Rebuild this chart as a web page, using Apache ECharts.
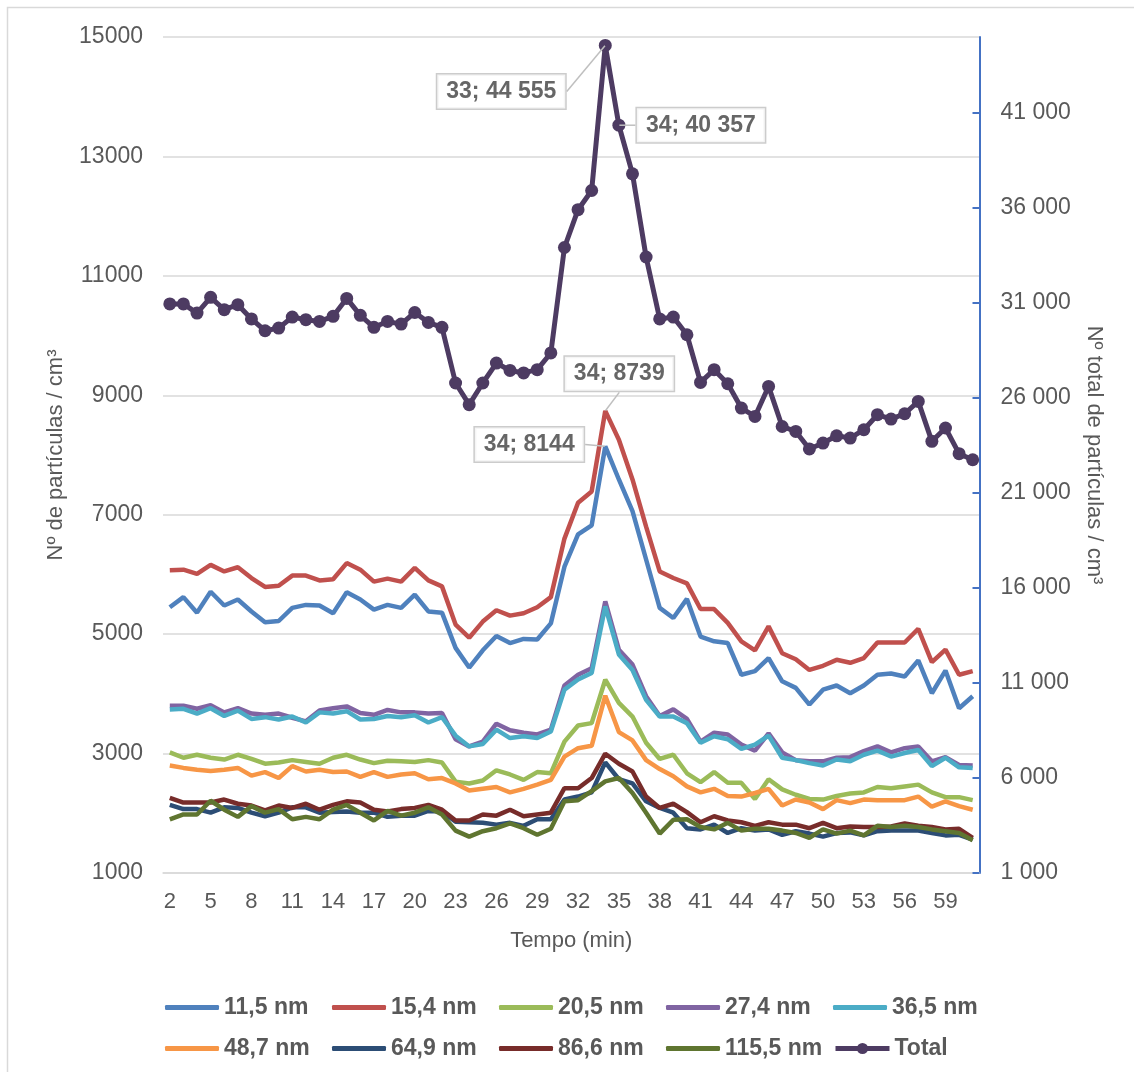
<!DOCTYPE html>
<html>
<head>
<meta charset="utf-8">
<script src="https://cdn.jsdelivr.net/npm/echarts@6/dist/echarts.min.js"></script>
<style>
  html, body { margin: 0; padding: 0; background: #ffffff; }
  #chart { width: 1134px; height: 1072px; }
</style>
</head>
<body>
<div id="chart"></div>
<script>
// Tempo (min) — one category per minute
const minutes = [2, 3, 4, 5, 6, 7, 8, 9, 10, 11, 12, 13, 14, 15, 16, 17, 18, 19, 20, 21,
  22, 23, 24, 25, 26, 27, 28, 29, 30, 31, 32, 33, 34, 35, 36, 37, 38, 39, 40, 41,
  42, 43, 44, 45, 46, 47, 48, 49, 50, 51, 52, 53, 54, 55, 56, 57, 58, 59, 60, 61];

// Concentration per size class (partículas / cm3), left axis
const nm11_5 = [5450, 5620, 5360, 5710, 5480, 5580, 5380, 5200, 5220, 5440,
  5490, 5480, 5350, 5700, 5580, 5410, 5490, 5440, 5660, 5380,
  5360, 4770, 4440, 4730, 4970, 4850, 4920, 4910, 5180, 6130,
  6670, 6820, 8144, 7590, 7060, 6250, 5440, 5270, 5590, 4960,
  4880, 4850, 4320, 4380, 4600, 4210, 4100, 3820, 4070, 4140,
  4010, 4140, 4320, 4340, 4290, 4560, 4010, 4390, 3760, 3960];
const nm15_4 = [6070, 6080, 6010, 6160, 6050, 6120, 5940, 5790, 5810, 5980,
  5980, 5900, 5920, 6190, 6080, 5880, 5930, 5880, 6110, 5900,
  5800, 5160, 4940, 5210, 5400, 5310, 5350, 5450, 5620, 6600,
  7200, 7390, 8739, 8256, 7590, 6800, 6050, 5940, 5850, 5420,
  5420, 5190, 4880, 4730, 5130, 4680, 4580, 4400, 4470, 4570,
  4520, 4600, 4860, 4860, 4860, 5090, 4530, 4740, 4320, 4380];
const nm20_5 = [3020, 2930, 2980, 2930, 2900, 2980, 2910, 2830, 2850, 2890,
  2860, 2830, 2930, 2980, 2900, 2840, 2880, 2870, 2860, 2890,
  2850, 2530, 2500, 2550, 2720, 2650, 2560, 2690, 2670, 3200,
  3470, 3510, 4237, 3850, 3620, 3180, 2910, 2980, 2670, 2520,
  2690, 2510, 2510, 2240, 2570, 2400, 2310, 2240, 2230, 2290,
  2330, 2350, 2440, 2420, 2450, 2480, 2350, 2270, 2270, 2220];
const nm27_4 = [3800, 3800, 3750, 3810, 3690, 3760, 3670, 3650, 3670, 3600,
  3540, 3720, 3760, 3790, 3680, 3650, 3730, 3690, 3690, 3670,
  3680, 3240, 3120, 3200, 3500, 3390, 3350, 3320, 3400, 4140,
  4320, 4430, 5548, 4740, 4490, 3960, 3630, 3740, 3580, 3200,
  3350, 3320, 3150, 3050, 3340, 3020, 2890, 2870, 2870, 2930,
  2940, 3040, 3120, 3020, 3090, 3120, 2870, 2940, 2810, 2800];
const nm36_5 = [3740, 3750, 3670, 3760, 3630, 3720, 3580, 3610, 3570, 3620,
  3520, 3690, 3670, 3710, 3570, 3580, 3630, 3610, 3640, 3520,
  3610, 3300, 3120, 3160, 3400, 3260, 3290, 3260, 3370, 4070,
  4240, 4350, 5465, 4660, 4400, 3900, 3620, 3620, 3510, 3180,
  3290, 3240, 3080, 3150, 3300, 2930, 2890, 2840, 2800, 2900,
  2870, 2980, 3050, 2950, 3010, 3060, 2790, 2930, 2770, 2760];
const nm48_7 = [2800, 2760, 2730, 2710, 2730, 2760, 2630, 2690, 2590, 2790,
  2700, 2730, 2690, 2700, 2610, 2690, 2610, 2650, 2670, 2570,
  2590, 2500, 2380, 2410, 2440, 2350, 2410, 2480, 2560, 2950,
  3090, 3130, 3969, 3360, 3220, 2890, 2740, 2620, 2450, 2350,
  2410, 2290, 2280, 2340, 2410, 2130, 2230, 2180, 2070, 2220,
  2170, 2230, 2220, 2220, 2220, 2280, 2110, 2200, 2120, 2060];
const nm64_9 = [2140, 2070, 2070, 2010, 2100, 2090, 2010, 1950, 2010, 2100,
  2100, 2010, 2020, 2030, 2010, 2010, 1940, 1960, 1960, 2040,
  2030, 1860, 1850, 1840, 1810, 1840, 1790, 1900, 1900, 2230,
  2280, 2350, 2852, 2570, 2500, 2200, 2090, 2010, 1750, 1730,
  1810, 1670, 1750, 1710, 1730, 1640, 1700, 1660, 1610, 1670,
  1680, 1630, 1700, 1710, 1710, 1710, 1670, 1630, 1640, 1560];
const nm86_6 = [2260, 2180, 2180, 2180, 2230, 2160, 2130, 2050, 2130, 2090,
  2160, 2060, 2140, 2200, 2180, 2060, 2030, 2070, 2090, 2140,
  2060, 1880, 1880, 1980, 1960, 2060, 1950, 1980, 2010, 2420,
  2420, 2590, 2998, 2830, 2700, 2280, 2090, 2160, 2020, 1850,
  1950, 1880, 1850, 1790, 1850, 1810, 1810, 1750, 1840, 1750,
  1780, 1770, 1770, 1780, 1830, 1790, 1770, 1730, 1740, 1590];
const nm115_5 = [1900, 1980, 1980, 2210, 2060, 1940, 2120, 2010, 2070, 1900,
  1940, 1900, 2060, 2140, 2010, 1880, 2040, 1960, 2010, 2100,
  1980, 1710, 1610, 1700, 1750, 1830, 1750, 1640, 1740, 2200,
  2220, 2370, 2534, 2590, 2340, 2010, 1660, 1890, 1900, 1770,
  1730, 1840, 1710, 1740, 1740, 1710, 1670, 1590, 1730, 1660,
  1710, 1630, 1790, 1770, 1790, 1770, 1730, 1700, 1670, 1550];

// Total concentration (right axis)
const total = [30950, 30950, 30470, 31300, 30650, 30910, 30160, 29540, 29680, 30260,
  30120, 30030, 30300, 31240, 30350, 29720, 30030, 29890, 30500, 29980,
  29720, 26790, 25650, 26790, 27840, 27450, 27320, 27490, 28370, 33920,
  35910, 36920, 44555, 40357, 37800, 33420, 30160, 30260, 29330, 26820,
  27490, 26750, 25470, 25030, 26610, 24500, 24240, 23320, 23630, 24010,
  23890, 24330, 25120, 24890, 25170, 25820, 23720, 24420, 23070, 22750];

// Axis ticks
const leftTicks = [1000, 3000, 5000, 7000, 9000, 11000, 13000, 15000];
const rightTicks = [1000, 6000, 11000, 16000, 21000, 26000, 31000, 36000, 41000];

// Series names and colours
const seriesNames = ['11,5 nm', '15,4 nm', '20,5 nm', '27,4 nm', '36,5 nm',
  '48,7 nm', '64,9 nm', '86,6 nm', '115,5 nm', 'Total'];
const seriesData = [nm11_5, nm15_4, nm20_5, nm27_4, nm36_5, nm48_7, nm64_9, nm86_6, nm115_5];
const seriesColors = ['#4F81BD', '#C0504D', '#9BBB59', '#8064A2', '#4BACC6',
  '#F79646', '#2C4D75', '#772C2A', '#5F7530', '#4D3B62'];

// Callouts: point index in the series and the minute printed in the label
const calloutsLeft = [
  { data: nm15_4, index: 32, minute: 34 },
  { data: nm11_5, index: 32, minute: 34 }
];
const calloutsRight = [
  { data: total, index: 32, minute: 33 },
  { data: total, index: 33, minute: 34 }
];

const spaced = v => String(v).replace(/\B(?=(\d{3})+(?!\d))/g, ' ');
const FONT = 'Liberation Sans, Arial, sans-serif';
const GREY = '#595959';

const calloutLabel = {
  show: true,
  position: 'inside',
  backgroundColor: '#ffffff',
  borderColor: '#bfbfbf',
  borderWidth: 1.5,
  padding: [6, 9, 5, 9],
  fontFamily: FONT,
  fontSize: 23,
  fontWeight: 'bold',
  color: '#404040'
};
const calloutLine = { show: true, lineStyle: { color: '#bfbfbf', width: 1.5 } };

// label offsets (px) from each callout point
const leftOffsets = [[14, -37], [-76, -2]];
const rightOffsets = [[-104, 46], [82, 0]];

const chart = echarts.init(document.getElementById('chart'), null, { renderer: 'canvas' });

const lineSeries = seriesData.map((d, i) => ({
  type: 'line',
  name: seriesNames[i],
  data: d,
  yAxisIndex: 0,
  symbol: 'none',
  showSymbol: false,
  color: seriesColors[i],
  lineStyle: { width: 4.5, color: seriesColors[i] },
  z: 2 + i * 0.01
}));

lineSeries.push({
  type: 'line',
  name: seriesNames[9],
  data: total,
  yAxisIndex: 1,
  symbol: 'circle',
  symbolSize: 13,
  showSymbol: true,
  showAllSymbol: true,
  color: seriesColors[9],
  itemStyle: { color: seriesColors[9] },
  lineStyle: { width: 5, color: seriesColors[9] },
  z: 3
});

lineSeries.push({
  type: 'scatter',
  name: 'calloutsLeft',
  yAxisIndex: 0,
  symbolSize: 1,
  itemStyle: { color: 'rgba(0,0,0,0)' },
  silent: true,
  z: 10,
  data: calloutsLeft.map(c => ({
    value: [c.index, c.data[c.index]],
    label: Object.assign({}, calloutLabel, { formatter: c.minute + '; ' + c.data[c.index] })
  })),
  label: calloutLabel,
  labelLine: calloutLine,
  labelLayout: p => ({ dx: leftOffsets[p.dataIndex][0], dy: leftOffsets[p.dataIndex][1] })
});

lineSeries.push({
  type: 'scatter',
  name: 'calloutsRight',
  yAxisIndex: 1,
  symbolSize: 1,
  itemStyle: { color: 'rgba(0,0,0,0)' },
  silent: true,
  z: 10,
  data: calloutsRight.map(c => ({
    value: [c.index, c.data[c.index]],
    label: Object.assign({}, calloutLabel, { formatter: c.minute + '; ' + spaced(c.data[c.index]) })
  })),
  label: calloutLabel,
  labelLine: calloutLine,
  labelLayout: p => ({ dx: rightOffsets[p.dataIndex][0], dy: rightOffsets[p.dataIndex][1] })
});

// legend: one entry per cell of a 5-column, 2-row layout
const COL = 167;
const ROW_TOPS = [991, 1032];
const legends = seriesNames.map((name, i) => {
  const isTotal = name === 'Total';
  return {
    left: 160 + (i % 5) * COL,
    top: ROW_TOPS[Math.floor(i / 5)],
    itemWidth: 54,
    itemHeight: isTotal ? 14 : 5,
    selectedMode: false,
    lineStyle: isTotal ? { width: 5 } : undefined,
    textStyle: { fontFamily: FONT, fontSize: 23, fontWeight: 'bold', color: GREY },
    data: [isTotal ? { name: name } : { name: name, icon: 'roundRect' }]
  };
});

chart.setOption({
  animation: false,
  backgroundColor: '#ffffff',
  textStyle: { fontFamily: FONT },
  graphic: [{
    type: 'rect',
    shape: { x: 7.5, y: 7.5, width: 1140, height: 1080 },
    style: { fill: 'none', stroke: '#d9d9d9', lineWidth: 1.5 },
    silent: true
  }],
  grid: { left: 163, right: 154.5, top: 37, bottom: 199 },
  legend: legends,
  xAxis: {
    type: 'category',
    data: minutes.map(String),
    boundaryGap: true,
    axisLine: { lineStyle: { color: '#d9d9d9', width: 1.5 } },
    axisTick: { show: false },
    axisLabel: { interval: 2, color: GREY, fontSize: 22, margin: 18, fontFamily: FONT },
    name: 'Tempo (min)',
    nameLocation: 'middle',
    nameGap: 57,
    nameTextStyle: { color: GREY, fontSize: 22, fontFamily: FONT }
  },
  yAxis: [{
    type: 'value',
    min: leftTicks[0],
    max: leftTicks[leftTicks.length - 1],
    interval: 2000,
    axisLine: { show: false },
    axisTick: { show: false },
    splitLine: { lineStyle: { color: '#d9d9d9', width: 1.5 } },
    axisLabel: { color: GREY, fontSize: 23, margin: 20, fontFamily: FONT, formatter: v => String(v) },
    name: 'Nº de partículas / cm³',
    nameLocation: 'middle',
    nameGap: 96,
    nameRotate: 90,
    nameTextStyle: { color: GREY, fontSize: 22, fontFamily: FONT }
  }, {
    type: 'value',
    position: 'right',
    min: 1000,
    max: 45000,
    interval: 5000,
    axisLine: { show: true, lineStyle: { color: '#4472C4', width: 2 } },
    axisTick: { show: true, inside: true, length: 7, lineStyle: { color: '#4472C4', width: 2 }, customValues: rightTicks },
    splitLine: { show: false },
    axisLabel: { color: GREY, fontSize: 23, margin: 21, fontFamily: FONT, customValues: rightTicks, formatter: v => spaced(v) },
    name: 'Nº total de partículas / cm³',
    nameLocation: 'middle',
    nameGap: 104,
    nameRotate: -90,
    nameTextStyle: { color: GREY, fontSize: 22, fontFamily: FONT }
  }],
  series: lineSeries
});
</script>
</body>
</html>
